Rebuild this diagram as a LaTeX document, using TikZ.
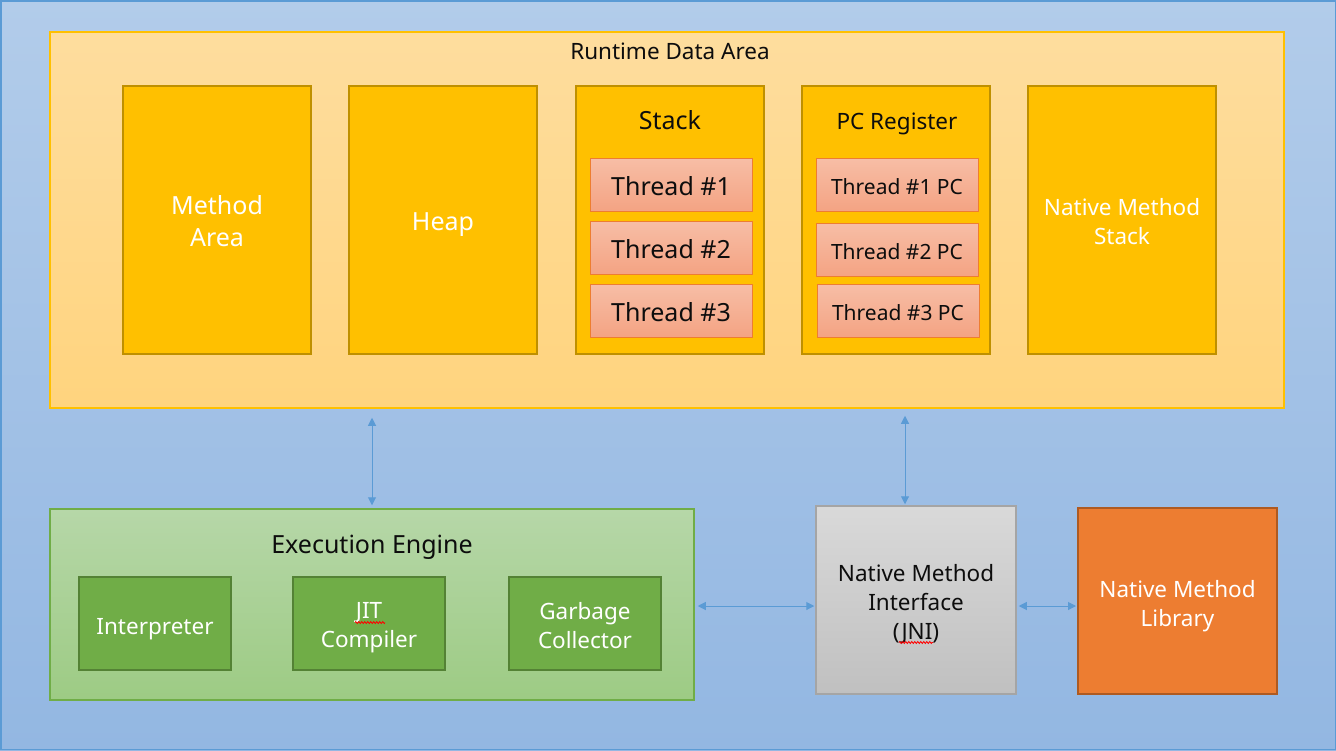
\documentclass[tikz,border=0pt]{standalone}
\usepackage{fontspec}
\setmainfont{Noto Sans}
\usetikzlibrary{arrows.meta}
\usetikzlibrary{calc}
\usetikzlibrary{decorations.pathmorphing}

\definecolor{bgtop}{HTML}{B2CCEA}
\definecolor{bgbottom}{HTML}{93B7E2}
\definecolor{bgline}{HTML}{5B9BD5}
\definecolor{rdatop}{HTML}{FEDD9E}
\definecolor{rdabottom}{HTML}{FFD47E}
\definecolor{rdaline}{HTML}{FFC000}
\definecolor{areafill}{HTML}{FFC000}
\definecolor{arealine}{HTML}{BF9000}
\definecolor{threadtop}{HTML}{F7BEA6}
\definecolor{threadbottom}{HTML}{F4A383}
\definecolor{threadline}{HTML}{ED7D31}
\definecolor{eetop}{HTML}{B6D7A8}
\definecolor{eebottom}{HTML}{9DCB84}
\definecolor{eeline}{HTML}{70AD47}
\definecolor{partfill}{HTML}{70AD47}
\definecolor{partline}{HTML}{548235}
\definecolor{jnitop}{HTML}{D9D9D9}
\definecolor{jnibottom}{HTML}{C0C0C0}
\definecolor{jniline}{HTML}{A5A5A5}
\definecolor{libfill}{HTML}{ED7D31}
\definecolor{libline}{HTML}{AE5A21}
\definecolor{textdark}{HTML}{0D0D0D}

\newcommand{\bigtext}{\fontsize{25}{32}\selectfont}
\newcommand{\midtext}{\fontsize{22.5}{29}\selectfont}
\newcommand{\smalltext}{\fontsize{21}{27}\selectfont}

\begin{document}
\begin{tikzpicture}[x=1pt,y=-1pt,
    area/.style={draw=arealine,line width=2pt,fill=areafill,inner sep=0pt,
        minimum width=188pt,minimum height=268pt},
    thread/.style={draw=threadline,line width=1pt,top color=threadtop,bottom color=threadbottom,
        inner sep=0pt,minimum width=162pt,minimum height=53pt},
    part/.style={draw=partline,line width=2pt,fill=partfill,inner sep=0pt,
        minimum width=152pt,minimum height=93pt},
    lighttext/.style={align=center,text=white,inner sep=0pt},
    darktext/.style={align=center,text=textdark,inner sep=0pt},
    link/.style={draw=bgline,line width=1pt,{Triangle[length=8pt,width=8pt]}-{Triangle[length=8pt,width=8pt]}},
    typo/.style={draw=red,line width=0.8pt,decorate,
        decoration={zigzag,amplitude=1pt,segment length=3pt}}]
    \useasboundingbox (0,0) rectangle (1336,750);

    % Background:
    \shade [top color=bgtop,bottom color=bgbottom] (0,0) rectangle (1336,750);
    \draw [bgline,line width=1.5pt] (0.75,0.75) rectangle (1335.25,749.25);

    % Runtime data area:
    \node (rda) [draw=rdaline,line width=1.5pt,top color=rdatop,bottom color=rdabottom,
        inner sep=0pt,minimum width=1234pt,minimum height=376pt] at (667,220) {};
    \node (rdatitle) [darktext,font=\midtext] at ($(rda.north)+(3,20)$) {Runtime Data Area};

    \node (method) [area,label={[name=methodtext,lighttext,font=\bigtext,yshift=-1pt]center:Method\\Area}] at (217,220) {};
    \node (heap)   [area,label={[name=heaptext,lighttext,font=\bigtext,yshift=-5pt]center:Heap}] at (443,220) {};
    \node (stack)  [area] at (670,220) {};
    \node (pc)     [area] at (896,220) {};
    \node (native) [area,label={[name=nativetext,lighttext,font=\midtext,yshift=-2pt]center:Native Method\\Stack}] at (1122,220) {};

    \node (stacktitle) [darktext,font=\bigtext] at ($(stack.north)+(0,35)$) {Stack};
    \node (pctitle) [darktext,font=\midtext] at ($(pc.north)+(1,39)$) {PC Register};

    % Threads:
    \node (st1) [thread,label={[darktext,font=\bigtext,yshift=-1.5pt]center:Thread \#1}] at (671,184.5) {};
    \node (st2) [thread,label={[darktext,font=\bigtext,yshift=-1.5pt]center:Thread \#2}] at (671,247.5) {};
    \node (st3) [thread,label={[darktext,font=\bigtext,yshift=-1.5pt]center:Thread \#3}] at (671,310.5) {};
    \node (pc1) [thread,label={[darktext,font=\smalltext,yshift=-2pt]center:Thread \#1 PC}] at (897,184.5) {};
    \node (pc2) [thread,label={[darktext,font=\smalltext,yshift=-2pt]center:Thread \#2 PC}] at (897,249.5) {};
    \node (pc3) [thread,label={[darktext,font=\smalltext,yshift=-2pt]center:Thread \#3 PC}] at (898,310.5) {};

    % Execution engine:
    \node (ee) [draw=eeline,line width=1.5pt,top color=eetop,bottom color=eebottom,
        inner sep=0pt,minimum width=644pt,minimum height=191pt] at (372,604.5) {};
    \node (eetitle) [darktext,font=\bigtext] at ($(ee.north)+(0,39)$) {Execution Engine};

    \node (interp) [part,label={[lighttext,font=\midtext,yshift=-6pt]center:Interpreter}] at (155,623.5) {};
    \node (jit)    [part,label={[lighttext,font=\midtext,yshift=-4.5pt]center:JIT\\Compiler}] at (369,623.5) {};
    \node (gc)     [part,label={[lighttext,font=\midtext,yshift=-2pt]center:Garbage\\Collector}] at (585,623.5) {};

    % Native side:
    \node (jni) [draw=jniline,line width=1.5pt,top color=jnitop,bottom color=jnibottom,
        inner sep=0pt,minimum width=200pt,minimum height=188pt,
        label={[darktext,font=\midtext,yshift=-4pt]center:Native Method\\Interface\\(JNI)}] at (916,600) {};
    \node (lib) [draw=libline,line width=2pt,fill=libfill,inner sep=0pt,
        minimum width=199pt,minimum height=186pt,
        label={[lighttext,font=\midtext,yshift=-5pt]center:Native Method\\Library}] at (1177.5,601) {};

    % Spelling marks:
    \draw [typo] ($(jit)+(-14,-1)$) -- ($(jit)+(16,-1)$);
    \draw [typo] ($(jni)+(-17,42.5)$) -- ($(jni)+(17,42.5)$);

    % Links:
    \coordinate (up1) at ($(ee.north |- rda.south)+(0,9)$);
    \coordinate (jnitop) at ($(jni.north)+(-11,0)$);
    \coordinate (up2) at ($(jnitop |- rda.south)+(0,7)$);
    \coordinate (eeport) at ($(ee.east)+(0,1.5)$);
    \coordinate (jniport) at ($(jni.east)+(0,6)$);
    \draw [link] (up1) -- ($(ee.north)+(0,-3)$);
    \draw [link] (up2) -- ($(jnitop)+(0,-1)$);
    \draw [link] ($(eeport)+(3,0)$) -- ($(eeport -| jni.west)+(-1,0)$);
    \draw [link] ($(jniport)+(2,0)$) -- ($(jniport -| lib.west)+(-1,0)$);
\end{tikzpicture}
\end{document}
